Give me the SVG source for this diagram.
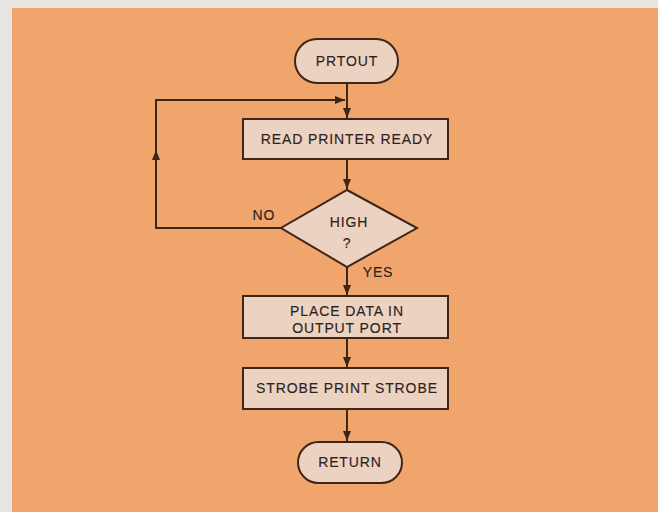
<svg xmlns="http://www.w3.org/2000/svg" width="658" height="512" viewBox="0 0 658 512">
<defs>
<marker id="ah" viewBox="0 0 10 8" refX="10" refY="4" markerWidth="10" markerHeight="8" markerUnits="userSpaceOnUse" orient="auto">
<path d="M0,0 L10,4 L0,8 Z" fill="#3f2418"/>
</marker>
<style>
.n{fill:#ecd2c0;stroke:#3f2418;stroke-width:2}
.t{font-family:"Liberation Sans",Arial,sans-serif;font-size:14px;fill:#2e221d;stroke:#2e221d;stroke-width:0.15;text-anchor:middle;letter-spacing:0.9px}
.c{fill:none;stroke:#3f2418;stroke-width:2}
</style>
</defs>
<rect x="0" y="0" width="658" height="512" fill="#e6e5e2"/>
<rect x="12" y="8" width="646" height="504" fill="#efa56c"/>
<g id="connectors">
<path class="c" d="M347,83 V118" marker-end="url(#ah)"/>
<path class="c" d="M281,228 H156 V100 H345" marker-end="url(#ah)"/>
<path class="c" d="M156,228 V150" marker-end="url(#ah)"/>
<path class="c" d="M347,159 V189" marker-end="url(#ah)"/>
<path class="c" d="M347,267 V295" marker-end="url(#ah)"/>
<path class="c" d="M347,338 V367" marker-end="url(#ah)"/>
<path class="c" d="M347,409 V441" marker-end="url(#ah)"/>
<text class="t" x="264" y="220">NO</text>
<text class="t" x="378" y="277">YES</text>
</g>
<g id="prtout">
<rect class="n" x="295" y="39" width="103" height="44" rx="22"/>
<text class="t" x="347" y="66">PRTOUT</text>
</g>
<g id="read">
<rect class="n" x="243" y="119" width="205" height="40"/>
<text class="t" x="347" y="144">READ PRINTER READY</text>
</g>
<g id="high">
<path class="n" d="M347,190 L417,228 L347,267 L281,228 Z"/>
<text class="t" x="349" y="227">HIGH</text>
<text class="t" x="347" y="248">?</text>
</g>
<g id="place">
<rect class="n" x="243" y="296" width="205" height="42"/>
<text class="t" x="347" y="316">PLACE DATA  IN</text>
<text class="t" x="347" y="333">OUTPUT PORT</text>
</g>
<g id="strobe">
<rect class="n" x="243" y="368" width="205" height="41"/>
<text class="t" x="347" y="393">STROBE PRINT STROBE</text>
</g>
<g id="return">
<rect class="n" x="298" y="442" width="104" height="41" rx="20.5"/>
<text class="t" x="350" y="467">RETURN</text>
</g>
</svg>
